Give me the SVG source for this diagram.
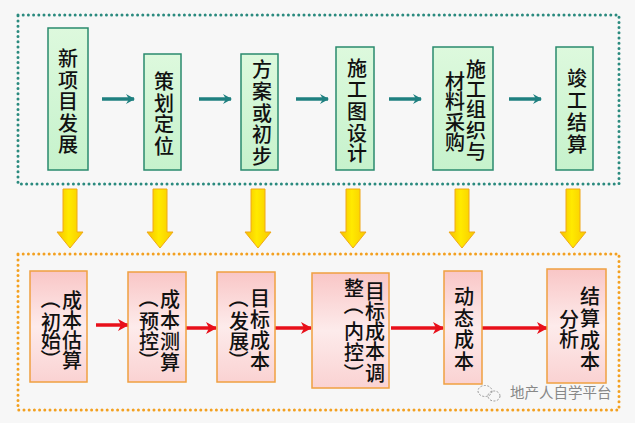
<svg xmlns="http://www.w3.org/2000/svg" width="635" height="423" viewBox="0 0 635 423">
<defs>
<linearGradient id="gGreen" x1="0" y1="0" x2="0" y2="1">
<stop offset="0" stop-color="#DDF9DD"/>
<stop offset="1" stop-color="#C6F2CC"/>
</linearGradient>
<linearGradient id="gPink" x1="0" y1="0" x2="0" y2="1">
<stop offset="0" stop-color="#F9C6C6"/>
<stop offset="0.5" stop-color="#FDEBEB"/>
<stop offset="1" stop-color="#FAD2D2"/>
</linearGradient>
<linearGradient id="gYellow" x1="0" y1="0" x2="1" y2="0">
<stop offset="0" stop-color="#F6C000"/>
<stop offset="0.45" stop-color="#FFEA00"/>
<stop offset="1" stop-color="#F8C800"/>
</linearGradient>
<marker id="mTeal" markerWidth="10" markerHeight="10" refX="8" refY="5" orient="auto" markerUnits="userSpaceOnUse">
<path d="M0,0 L9,5 L0,10 L3,5 Z" fill="#1F8080"/>
</marker>
<marker id="mRed" markerWidth="12" markerHeight="12" refX="10" refY="6" orient="auto" markerUnits="userSpaceOnUse">
<path d="M0,0 L11,6 L0,12 L3,6 Z" fill="#E8101A"/>
</marker>
<path id="yArrow" d="M-7,0 H7 V43 H13 L0,59 L-13,43 H-7 Z"/>
</defs>
<style>
.frameT{fill:none;stroke:#2A8A7E;stroke-width:3;stroke-dasharray:0 5.2;stroke-linecap:round}
.frameO{fill:none;stroke:#F3A020;stroke-width:3;stroke-dasharray:0 5.2;stroke-linecap:round}
.gbox{fill:url(#gGreen);stroke:#2A8A6E;stroke-width:1.5}
.pbox{fill:url(#gPink);stroke:#F0A040;stroke-width:1.5}
.t{font-family:"Noto Sans CJK SC","Noto Sans CJK JP",sans-serif;font-size:20px;font-weight:500;fill:#111;text-anchor:middle;dominant-baseline:central}
.tealA{stroke:#1F8080;stroke-width:3.5;fill:none;marker-end:url(#mTeal)}
.redA{stroke:#E8101A;stroke-width:3.5;fill:none;marker-end:url(#mRed)}
.yel{fill:url(#gYellow);stroke:#F0A818;stroke-width:1}
.wm{font-family:"Noto Sans CJK SC",sans-serif;font-size:14.5px;fill:#888}
</style>
<rect x="0" y="0" width="635" height="423" fill="#F7F7F7"/>
<rect class="frameT" x="18" y="15" width="601" height="169"/>
<rect class="frameO" x="18" y="254" width="601" height="156"/>

<g id="connectors">
<line class="tealA" x1="102" y1="99" x2="134" y2="99"/>
<line class="tealA" x1="199" y1="99" x2="231" y2="99"/>
<line class="tealA" x1="296" y1="99" x2="328" y2="99"/>
<line class="tealA" x1="389" y1="99" x2="421" y2="99"/>
<line class="tealA" x1="509" y1="99" x2="541" y2="99"/>
<use href="#yArrow" class="yel" x="70" y="189"/>
<use href="#yArrow" class="yel" x="160" y="189"/>
<use href="#yArrow" class="yel" x="258" y="189"/>
<use href="#yArrow" class="yel" x="353" y="189"/>
<use href="#yArrow" class="yel" x="462" y="189"/>
<use href="#yArrow" class="yel" x="573" y="189"/>
<line class="redA" x1="96" y1="325" x2="128" y2="325"/>
<line class="redA" x1="183" y1="328" x2="216" y2="328"/>
<line class="redA" x1="275" y1="328" x2="311" y2="328"/>
<line class="redA" x1="391" y1="328" x2="443" y2="328"/>
<line class="redA" x1="482" y1="328" x2="547" y2="328"/>
</g>

<g id="n1">
<rect class="gbox" x="48" y="28" width="40" height="142"/>
<text class="t"><tspan x="68" y="57">新</tspan><tspan x="68" y="79">项</tspan><tspan x="68" y="100">目</tspan><tspan x="68" y="122">发</tspan><tspan x="68" y="143">展</tspan></text>
</g>
<g id="n2">
<rect class="gbox" x="144" y="54" width="37" height="116"/>
<text class="t"><tspan x="164" y="80">策</tspan><tspan x="164" y="102">划</tspan><tspan x="164" y="123">定</tspan><tspan x="164" y="145">位</tspan></text>
</g>
<g id="n3">
<rect class="gbox" x="241" y="54" width="37" height="116"/>
<text class="t"><tspan x="262" y="68">方</tspan><tspan x="262" y="90">案</tspan><tspan x="262" y="112">或</tspan><tspan x="262" y="133">初</tspan><tspan x="262" y="155">步</tspan></text>
</g>
<g id="n4">
<rect class="gbox" x="336" y="47" width="38" height="123"/>
<text class="t"><tspan x="357" y="67">施</tspan><tspan x="357" y="88">工</tspan><tspan x="357" y="110">图</tspan><tspan x="357" y="132">设</tspan><tspan x="357" y="152">计</tspan></text>
</g>
<g id="n5">
<rect class="gbox" x="433" y="47" width="60" height="123"/>
<text class="t"><tspan x="476" y="68">施</tspan><tspan x="476" y="88">工</tspan><tspan x="476" y="108">组</tspan><tspan x="476" y="129">织</tspan><tspan x="476" y="150">与</tspan><tspan x="455" y="80">材</tspan><tspan x="455" y="100">料</tspan><tspan x="455" y="121">采</tspan><tspan x="455" y="141">购</tspan></text>
</g>
<g id="n6">
<rect class="gbox" x="556" y="47" width="37" height="123"/>
<text class="t"><tspan x="577" y="77">竣</tspan><tspan x="577" y="99">工</tspan><tspan x="577" y="121">结</tspan><tspan x="577" y="143">算</tspan></text>
</g>

<g id="c1">
<rect class="pbox" x="30" y="271" width="57" height="111"/>
<text class="t"><tspan x="72" y="299">成</tspan><tspan x="72" y="319">本</tspan><tspan x="72" y="339">估</tspan><tspan x="72" y="359">算</tspan><tspan x="51" y="321">初</tspan><tspan x="51" y="339">始</tspan></text>
<text class="t" transform="rotate(90 51 299)" x="51" y="299">（</text>
<text class="t" transform="rotate(90 51 359)" x="51" y="359">）</text>
</g>
<g id="c2">
<rect class="pbox" x="128" y="272" width="58" height="110"/>
<text class="t"><tspan x="170" y="298">成</tspan><tspan x="170" y="319">本</tspan><tspan x="170" y="340">测</tspan><tspan x="170" y="361">算</tspan><tspan x="149" y="320">预</tspan><tspan x="149" y="340">控</tspan></text>
<text class="t" transform="rotate(90 149 298)" x="149" y="298">（</text>
<text class="t" transform="rotate(90 149 360)" x="149" y="360">）</text>
</g>
<g id="c3">
<rect class="pbox" x="217" y="272" width="58" height="110"/>
<text class="t"><tspan x="260" y="297">目</tspan><tspan x="260" y="318">标</tspan><tspan x="260" y="339">成</tspan><tspan x="260" y="360">本</tspan><tspan x="239" y="320">发</tspan><tspan x="239" y="340">展</tspan></text>
<text class="t" transform="rotate(90 239 298)" x="239" y="298">（</text>
<text class="t" transform="rotate(90 239 360)" x="239" y="360">）</text>
</g>
<g id="c4">
<rect class="pbox" x="312" y="273" width="77" height="115"/>
<text class="t"><tspan x="375" y="290">目</tspan><tspan x="375" y="310">标</tspan><tspan x="375" y="330">成</tspan><tspan x="375" y="350">本</tspan><tspan x="375" y="372">调</tspan><tspan x="354" y="287">整</tspan><tspan x="354" y="330">内</tspan><tspan x="354" y="351">控</tspan></text>
<text class="t" transform="rotate(90 354 305)" x="354" y="305">（</text>
<text class="t" transform="rotate(90 354 373)" x="354" y="373">）</text>
</g>
<g id="c5">
<rect class="pbox" x="444" y="271" width="38" height="113"/>
<text class="t"><tspan x="464" y="295">动</tspan><tspan x="464" y="317">态</tspan><tspan x="464" y="338">成</tspan><tspan x="464" y="360">本</tspan></text>
</g>
<g id="c6">
<rect class="pbox" x="547" y="269" width="59" height="114"/>
<text class="t"><tspan x="590" y="295">结</tspan><tspan x="590" y="317">算</tspan><tspan x="590" y="339">成</tspan><tspan x="590" y="360">本</tspan><tspan x="569" y="318">分</tspan><tspan x="569" y="338">析</tspan></text>
</g>

<g id="watermark">
<ellipse cx="485" cy="391" rx="7" ry="5.5" fill="none" stroke="#999" stroke-width="1" stroke-dasharray="2 1.5"/>
<ellipse cx="494" cy="396" rx="6" ry="5" fill="none" stroke="#999" stroke-width="1" stroke-dasharray="2 1.5"/>
<text class="wm" x="510" y="398">地产人自学平台</text>
</g>
</svg>
